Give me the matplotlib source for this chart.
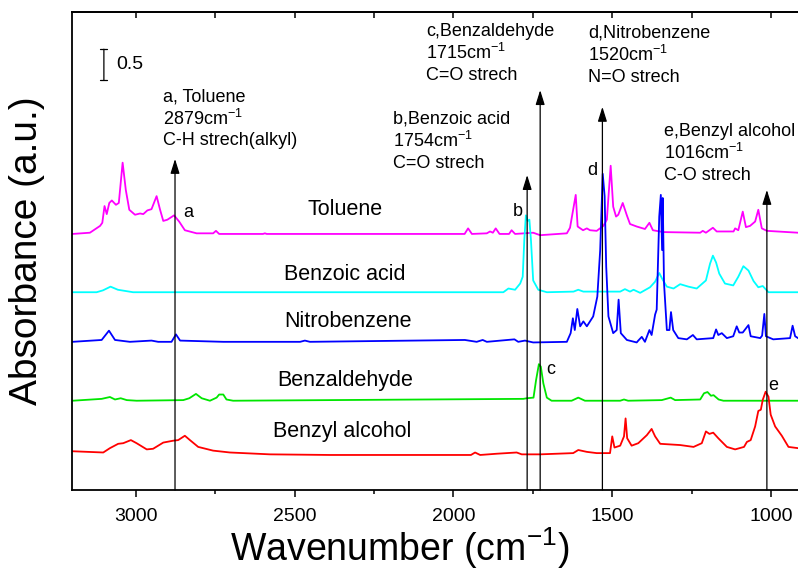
import matplotlib.pyplot as plt
from matplotlib.ticker import MultipleLocator

plt.rcParams['font.family'] = ['Liberation Sans', 'DejaVu Sans']
plt.rcParams['mathtext.default'] = 'regular'

# spectra: (wavenumber cm-1, absorbance above own baseline)
toluene = [(3200, 0), (3145, 0.02), (3113, 0.13), (3106, 0.18), (3099, 0.45), (3092, 0.32),
           (3084, 0.50), (3076, 0.54), (3063, 0.47), (3054, 0.50), (3042, 1.15), (3032, 0.71),
           (3021, 0.39), (3003, 0.31), (2987, 0.33), (2977, 0.32), (2964, 0.38), (2951, 0.40),
           (2935, 0.61), (2924, 0.39), (2914, 0.21), (2901, 0.23), (2880, 0.30), (2864, 0.20),
           (2846, 0.06), (2809, 0.01), (2757, 0.01), (2748, 0.05), (2738, 0), (2600, 0),
           (2594, 0.01), (2588, 0), (1965, 0), (1954, 0.09), (1942, 0), (1895, 0.01),
           (1885, 0.04), (1876, 0.02), (1867, 0.09), (1855, 0), (1825, 0), (1817, 0.06),
           (1806, 0), (1749, 0.02), (1727, -0.02), (1643, 0.01), (1633, 0.10), (1615, 0.63),
           (1609, 0.12), (1592, 0.06), (1580, 0.09), (1570, 0.06), (1549, 0.05), (1528, 0.13),
           (1517, 0.23), (1505, 1.10), (1497, 0.44), (1488, 0.28), (1481, 0.31), (1467, 0.50),
           (1454, 0.30), (1444, 0.16), (1423, 0.12), (1397, 0.08), (1383, 0.18), (1372, 0.06),
           (1339, 0.03), (1223, 0.02), (1215, 0.05), (1205, 0.02), (1183, 0.10), (1171, 0.04),
           (1118, 0.04), (1113, 0.09), (1103, 0.06), (1089, 0.36), (1079, 0.11), (1066, 0.13),
           (1050, 0.20), (1040, 0.39), (1029, 0.09), (1013, 0.05), (915, 0.02)]

benzoic_acid = [(3200, 0), (3124, 0), (3104, 0.03), (3080, 0.09), (3057, 0.04), (3009, 0),
                (1843, 0), (1827, 0.06), (1806, 0.04), (1790, 0.14), (1782, 0.25), (1777, 0.84),
                (1772, 1.24), (1766, 1.15), (1761, 1.17), (1756, 0.84), (1749, 0.19), (1733, 0.04),
                (1706, 0), (1622, 0.01), (1607, 0.04), (1591, 0.01), (1475, 0.01), (1460, 0.05),
                (1444, 0.01), (1433, 0.04), (1412, -0.01), (1381, 0.08), (1365, 0.17), (1352, 0.31),
                (1341, 0.20), (1328, 0.09), (1307, 0.06), (1286, 0.13), (1260, 0.09), (1234, 0.06),
                (1205, 0.19), (1192, 0.46), (1183, 0.59), (1173, 0.48), (1163, 0.30), (1145, 0.14),
                (1119, 0.11), (1103, 0.25), (1087, 0.42), (1071, 0.35), (1055, 0.18), (1040, 0.08),
                (1026, 0.10), (1008, 0), (915, 0)]

nitrobenzene = [(3200, 0), (3108, 0.03), (3085, 0.18), (3066, 0.03), (3019, 0), (2951, 0.02),
                (2930, 0), (2888, 0), (2874, 0.12), (2861, 0.02), (2725, 0), (2483, 0),
                (2468, 0.02), (2452, 0), (1964, 0.03), (1927, 0), (1908, 0.03), (1895, 0),
                (1808, 0.04), (1796, 0), (1775, 0.02), (1749, -0.01), (1643, 0), (1631, 0.14),
                (1624, 0.38), (1618, 0.19), (1610, 0.53), (1601, 0.25), (1591, 0.33), (1580, 0.25),
                (1560, 0.41), (1547, 0.73), (1538, 1.48), (1530, 2.71), (1524, 2.35), (1519, 1.21),
                (1512, 0.41), (1497, 0.14), (1486, 0.19), (1480, 0.68), (1473, 0.14), (1454, 0.03),
                (1423, -0.01), (1418, 0.02), (1407, 0.08), (1397, 0), (1383, 0.19), (1376, 0.11),
                (1365, 0.44), (1360, 0.52), (1352, 2.02), (1347, 2.37), (1343, 1.48), (1341, 2.32),
                (1337, 0.95), (1328, 0.19), (1320, 0.19), (1315, 0.48), (1308, 0.19), (1292, 0.06),
                (1265, 0.04), (1246, 0.11), (1234, 0.04), (1182, 0.06), (1173, 0.20), (1166, 0.11),
                (1155, 0.14), (1139, 0.06), (1119, 0.09), (1108, 0.25), (1100, 0.15), (1089, 0.15),
                (1071, 0.27), (1064, 0.09), (1034, 0.06), (1028, 0.10), (1021, 0.45), (1016, 0.09),
                (993, 0.04), (940, 0.06), (932, 0.26), (924, 0.09), (915, 0.06)]

benzaldehyde = [(3200, 0), (3108, 0.03), (3082, 0.06), (3066, 0.02), (3048, 0.04), (3029, 0.01),
                (2998, 0), (2851, 0.01), (2832, 0.04), (2811, 0.11), (2793, 0.04), (2767, 0),
                (2746, 0.05), (2738, 0.10), (2725, 0.10), (2715, 0.02), (2694, 0), (1780, 0.03),
                (1769, 0.04), (1748, 0.05), (1740, 0.33), (1731, 0.59), (1725, 0.55), (1717, 0.28),
                (1706, 0.05), (1691, 0), (1628, 0), (1607, 0.05), (1586, 0), (1475, 0),
                (1463, 0.02), (1450, 0), (1344, 0.01), (1316, 0.05), (1302, 0.01), (1223, 0.02),
                (1211, 0.12), (1200, 0.14), (1189, 0.08), (1181, 0.09), (1165, 0.02), (1150, 0),
                (915, 0)]

benzyl_alcohol = [(3200, 0.06), (3103, 0.04), (3082, 0.11), (3056, 0.18), (3040, 0.19), (3016, 0.24),
                  (2998, 0.19), (2966, 0.09), (2946, 0.10), (2914, 0.20), (2883, 0.23), (2867, 0.24),
                  (2846, 0.31), (2830, 0.24), (2804, 0.13), (2757, 0.07), (2704, 0.04), (2578, 0.01),
                  (2389, 0), (1945, 0), (1932, 0.04), (1916, 0), (1864, 0.02), (1801, 0.04),
                  (1785, 0.01), (1727, 0.01), (1623, 0.03), (1607, 0.08), (1580, 0.05), (1549, 0.03),
                  (1507, 0.03), (1500, 0.30), (1493, 0.12), (1475, 0.15), (1463, 0.30), (1458, 0.59),
                  (1453, 0.27), (1439, 0.15), (1418, 0.19), (1391, 0.32), (1376, 0.42), (1365, 0.30),
                  (1349, 0.18), (1286, 0.16), (1244, 0.13), (1218, 0.19), (1205, 0.38), (1194, 0.34),
                  (1182, 0.36), (1166, 0.27), (1139, 0.13), (1113, 0.09), (1085, 0.13), (1076, 0.21),
                  (1064, 0.24), (1050, 0.46), (1040, 0.71), (1032, 0.73), (1026, 0.89), (1017, 1.02),
                  (1008, 0.94), (1001, 0.65), (987, 0.46), (966, 0.31), (945, 0.13), (915, 0.11)]

spectra = [toluene, benzoic_acid, nitrobenzene, benzaldehyde, benzyl_alcohol]
names = ['Toluene', 'Benzoic acid', 'Nitrobenzene', 'Benzaldehyde', 'Benzyl alcohol']
offsets = [4.13, 3.19, 2.39, 1.44, 0.565]
colors = ['#FF00FF', '#00FFFF', '#0000FF', '#00E600', '#FF0000']
name_pos = [(2342, 4.53), (2342, 3.47), (2332, 2.71), (2342, 1.76), (2351, 0.94)]

# marker arrows: letter, x position, arrow tip, letter position, text block
letters = ['a', 'b', 'c', 'd', 'e']
arrow_x = [2877, 1768, 1727, 1531, 1013]
arrow_tip = [5.34, 5.08, 6.45, 6.18, 4.84]
letter_pos = [(2836, 4.48), (1799, 4.50), (1694, 1.95), (1562, 5.16), (993, 1.68)]
notes = [['a, Toluene', '2879cm$^{-1}$', 'C-H strech(alkyl)'],
         ['b,Benzoic acid', '1754cm$^{-1}$', 'C=O strech'],
         ['c,Benzaldehyde', '1715cm$^{-1}$', 'C=O strech'],
         ['d,Nitrobenzene', '1520cm$^{-1}$', 'N=O strech'],
         ['e,Benzyl alcohol', '1016cm$^{-1}$', 'C-O strech']]
note_pos = [(2915, 6.34), (2190, 5.98), (2086, 7.40), (1576, 7.37), (1337, 5.79)]

fig = plt.figure(figsize=(7.98, 5.77), dpi=100)
ax = fig.add_axes([71.5 / 798, 87 / 577, 726.5 / 798, 478 / 577])

for spec, off, col in zip(spectra, offsets, colors):
    wn = [p[0] for p in spec]
    ab = [p[1] + off for p in spec]
    ax.plot(wn, ab, color=col, lw=1.3, zorder=2)

for name, (x, y) in zip(names, name_pos):
    ax.text(x, y, name, fontsize=15.5, ha='center', va='center')

for i in range(len(letters)):
    ax.annotate('', xy=(arrow_x[i], arrow_tip[i]), xytext=(arrow_x[i], 0),
                arrowprops=dict(arrowstyle='-|>,head_length=0.8,head_width=0.25',
                                color='black', lw=0.9, mutation_scale=11,
                                shrinkA=0, shrinkB=0), zorder=3)
    ax.text(letter_pos[i][0], letter_pos[i][1], letters[i], fontsize=13,
            ha='center', va='center')
    nx, ny = note_pos[i]
    for k, line in enumerate(notes[i]):
        ax.text(nx, ny - k * 0.355, line, fontsize=13, ha='left', va='center')

# 0.5 absorbance scale bar
ax.annotate('', xy=(3101, 7.11), xytext=(3101, 6.61),
            arrowprops=dict(arrowstyle='|-|,widthA=0.25,widthB=0.25', color='black',
                            lw=0.9, mutation_scale=10, shrinkA=0, shrinkB=0))
ax.text(3063, 6.86, '0.5', fontsize=14, ha='left', va='center')

ax.set_xlim(3203, 915)
ax.set_ylim(0, 7.71)
ax.set_yticks([])
ax.xaxis.set_major_locator(MultipleLocator(500))
ax.xaxis.set_minor_locator(MultipleLocator(250))
ax.tick_params(axis='x', which='major', direction='out', length=5, width=1.1,
               labelsize=14, pad=8)
ax.tick_params(axis='x', which='minor', direction='out', length=3, width=1.1)
ax.spines['right'].set_visible(False)
for s in ['left', 'bottom', 'top']:
    ax.spines[s].set_linewidth(1.3)

top = ax.secondary_xaxis('top')
top.xaxis.set_major_locator(MultipleLocator(500))
top.xaxis.set_minor_locator(MultipleLocator(250))
top.tick_params(axis='x', which='both', direction='in', length=4, width=1.1, labeltop=False)
top.spines['top'].set_linewidth(1.3)

ax.set_xlabel('Wavenumber (cm$^{-1}$)', fontsize=27)
ax.xaxis.set_label_coords(0.452, -0.075)
ax.set_ylabel('Absorbance (a.u.)', fontsize=28)
ax.yaxis.set_label_coords(-0.036, 0.5)

fig.savefig('out.png', dpi=100)
